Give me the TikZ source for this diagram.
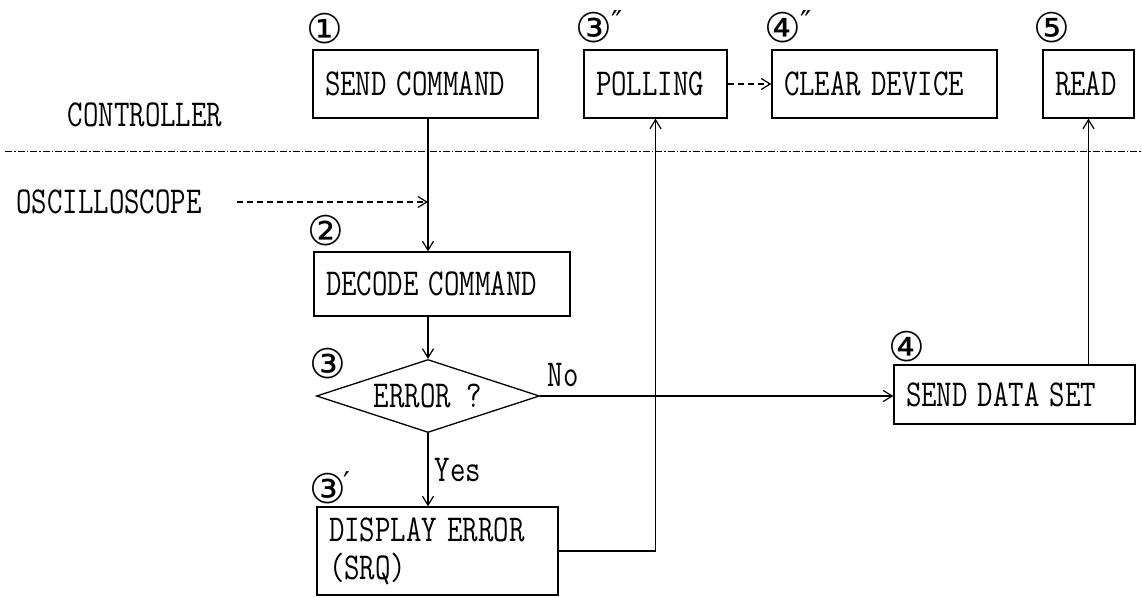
\documentclass[tikz,border=0pt]{standalone}
\usepackage{fontspec}
\newfontfamily\circfont{DejaVu Sans}
\usetikzlibrary{shapes.geometric,arrows.meta}
\newcommand\lbl[1]{\scalebox{0.79}[1]{#1}}
\begin{document}
\begin{tikzpicture}[x=1pt,y=-1pt,
  every node/.style={font=\fontsize{38}{38}\selectfont\ttfamily},
  stepbox/.style={draw, line width=1.3pt, inner xsep=12pt, inner ysep=0pt, align=left, anchor=center},
  arr/.style={line width=1.2pt, -{Straight Barb[length=9pt,width=11pt]}},
  dasharr/.style={arr, dash pattern=on 6pt off 4pt},
  num/.style={font=\fontsize{41}{41}\selectfont\circfont, inner sep=0pt},
  tick/.style={font=\fontsize{30}{30}\selectfont\circfont, inner sep=0pt}]
\fill[white] (0,0) rectangle (1142,597);
\useasboundingbox (0,0) rectangle (1142,597);

% boxes
\node[stepbox, minimum width=225pt, minimum height=68pt, text width=201pt] (send) at (425.5,84) {\lbl{SEND COMMAND}};
\node[stepbox, minimum width=143pt, minimum height=68pt, text width=119pt] (poll) at (655.5,84) {\lbl{POLLING}};
\node[stepbox, minimum width=225pt, minimum height=68pt, text width=201pt] (clear) at (884.5,84) {\lbl{CLEAR DEVICE}};
\node[stepbox, minimum width=91pt, minimum height=68pt, text width=67pt] (read) at (1088.5,84) {\lbl{READ}};
\node[stepbox, minimum width=256pt, minimum height=64pt, text width=232pt] (decode) at (442,284) {\lbl{DECODE COMMAND}};
\node[stepbox, minimum width=241pt, minimum height=59pt, text width=217pt] (data) at (1014.5,394.5) {\lbl{SEND DATA SET}};
\node[stepbox, minimum width=241pt, minimum height=88pt, text width=217pt] (disp) at (437.5,551) {\lbl{DISPLAY ERROR}\\[0pt]\lbl{(SRQ)}};
\node[draw, diamond, line width=1.3pt, aspect=3, inner sep=0pt, minimum width=223pt, minimum height=73pt] (dia) at (428,396) {\lbl{ERROR ?}};

% side labels
\node (ctrl) at (145,115) {\lbl{CONTROLLER}};
\node (osc) at (109,202) {\lbl{OSCILLOSCOPE}};
\node (no) at (563,375) {\lbl{No}};
\node (yes) at (458,470) {\lbl{Yes}};

% step numbers
\node[num] (n1) at (325,29) {①};
\node[num] (n2) at (326,231) {②};
\node[num] (n3pp) at (594,28) {③};
\node[tick] (t3pp) at (617,22) {″};
\node[num] (n4pp) at (783,28) {④};
\node[tick] (t4pp) at (806,22) {″};
\node[num] (n5) at (1052,28) {⑤};
\node[num] (n3) at (328,364) {③};
\node[num] (n3p) at (328,489) {③};
\node[tick] (t3p) at (347,483) {′};
\node[num] (n4) at (907,347) {④};

% divider
\coordinate (dl) at (5,151);
\coordinate (dr) at (1142,151);
\draw[line width=1pt, dash pattern=on 7pt off 2pt on 1.5pt off 2pt] (dl) -- (dr);

% connectors
\draw[arr] (send.south -| dia.north) -- (decode.north -| dia.north);
\draw[arr] (decode.south -| dia.north) -- (dia.north);
\draw[arr] (dia.south) -- (disp.north -| dia.south);
\draw[arr] (dia.east) -- (dia.east -| data.west);
\draw[arr] (disp.east) -| (poll.south);
\draw[arr] (data.north -| read.south) -- (read.south);
\draw[dasharr] (poll.east) -- (clear.west);
\coordinate (os) at (237,202);
\coordinate (oe) at (428,202);
\draw[dasharr] (os) -- (oe);
\end{tikzpicture}
\end{document}
